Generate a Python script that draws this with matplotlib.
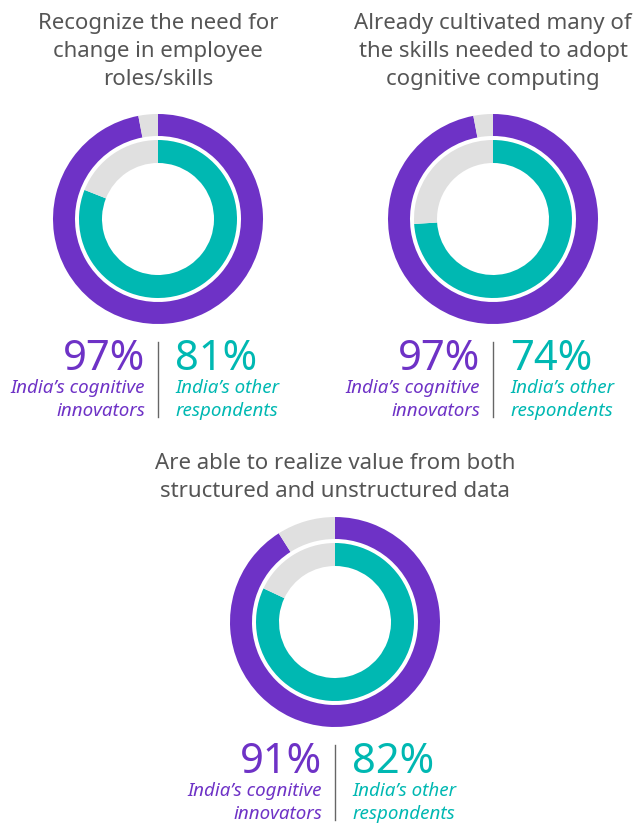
import matplotlib.pyplot as plt

titles = [
    "Recognize the need for\nchange in employee\nroles/skills",
    "Already cultivated many of\nthe skills needed to adopt\ncognitive computing",
    "Are able to realize value from both\nstructured and unstructured data",
]
innovators = [97, 97, 91]
others = [81, 74, 82]
innovator_label = "India\u2019s cognitive\ninnovators"
other_label = "India\u2019s other\nrespondents"

PURPLE = "#6e32c6"
TEAL = "#00b8b2"
GRAY = "#e0e0e0"
TEXT = "#555555"

W, H = 638, 823
# donut centres in pixels (x, y from top)
centers = [(158, 219), (493, 219), (335, 622)]
title_y = [26, 26, 466]
R = 105

plt.rcParams["font.family"] = ["Noto Sans", "DejaVu Sans"]
fig = plt.figure(figsize=(W / 100, H / 100), dpi=100)


def donut(cx, cy, outer, inner):
    ax = fig.add_axes([(cx - R) / W, (H - cy - R) / H, 2 * R / W, 2 * R / H])
    ax.pie([outer, 100 - outer], radius=1, startangle=90, counterclock=False,
           colors=[PURPLE, GRAY], wedgeprops=dict(width=22 / R, linewidth=0))
    ax.pie([inner, 100 - inner], radius=79 / R, startangle=90, counterclock=False,
           colors=[TEAL, GRAY], wedgeprops=dict(width=23 / R, linewidth=0))
    ax.set_xlim(-1, 1)
    ax.set_ylim(-1, 1)
    ax.set_aspect("equal")
    ax.axis("off")


for i, (cx, cy) in enumerate(centers):
    donut(cx, cy, innovators[i], others[i])
    fig.text(cx / W, 1 - (title_y[i] - 13) / H, titles[i], ha="center", va="top",
             fontsize=16, color=TEXT, linespacing=1.45)
    py = cy + 140
    fig.text((cx - 13) / W, 1 - py / H, f"{innovators[i]}%", ha="right",
             va="center", fontsize=30, color=PURPLE, fontweight="light")
    fig.text((cx + 17) / W, 1 - py / H, f"{others[i]}%", ha="left",
             va="center", fontsize=30, color=TEAL, fontweight="light")
    fig.text((cx - 13) / W, 1 - (py + 20) / H, innovator_label, ha="right",
             va="top", fontsize=13.5, color=PURPLE, style="italic", linespacing=1.35)
    fig.text((cx + 17) / W, 1 - (py + 20) / H, other_label, ha="left",
             va="top", fontsize=13.5, color=TEAL, style="italic", linespacing=1.35)
    fig.add_artist(plt.Line2D([cx / W, cx / W], [1 - (py - 17) / H, 1 - (py + 58) / H],
                              color="#666666", linewidth=1))

fig.savefig("out.png", dpi=100)
